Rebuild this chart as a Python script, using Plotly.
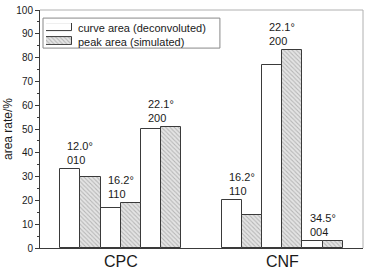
import plotly.graph_objects as go

groups = ["CPC", "CPC", "CPC", "CNF", "CNF", "CNF"]
angles = ["12.0°", "16.2°", "22.1°", "16.2°", "22.1°", "34.5°"]
hkl = ["010", "110", "200", "110", "200", "004"]
curve_area = [33, 17, 50, 20, 77, 3]
peak_area = [30, 19, 51, 14, 83, 3]
group_names = ["CPC", "CNF"]
series_names = ["curve area (deconvoluted)", "peak area (simulated)"]

# position of each pair: index inside its group, groups separated by one empty slot
pos = []
counts = {}
for g in groups:
    gi = group_names.index(g)
    k = counts.get(g, 0)
    counts[g] = k + 1
    pos.append(gi * 4 + k)
group_centers = [sum(p for p, g in zip(pos, groups) if g == name) / groups.count(name) for name in group_names]

FONT = "Liberation Sans, Arial, sans-serif"
EDGE = "#3a3a3a"
TXT = "#1a1a1a"
WHITE_STYLE = dict(color="white", line=dict(color=EDGE, width=1))
HATCH_STYLE = dict(color="#d9d9d9", line=dict(color=EDGE, width=1),
                   pattern=dict(shape="\\", size=3, solidity=0.35, fgcolor="#8a8a8a", bgcolor="#e4e4e4"))

fig = go.Figure()
fig.add_trace(go.Bar(x=pos, y=curve_area, width=0.5, offset=-0.5, name=series_names[0],
                     marker=WHITE_STYLE, showlegend=False))
fig.add_trace(go.Bar(x=pos, y=peak_area, width=0.5, offset=0, name=series_names[1],
                     marker=HATCH_STYLE, showlegend=False))

for p, a, h, c, s in zip(pos, angles, hkl, curve_area, peak_area):
    fig.add_annotation(x=p, y=max(c, s), text=f"{a}<br>{h}", showarrow=False,
                       xanchor="center", yanchor="bottom", align="left", yshift=1,
                       font=dict(size=11, color=TXT, family=FONT))

# category labels under the axis
for name, cx in zip(group_names, group_centers):
    fig.add_annotation(x=cx, y=0, xref="x", yref="paper", text=name, showarrow=False,
                       xanchor="center", yanchor="top", yshift=-3,
                       font=dict(size=16, color=TXT, family=FONT))

# frame (top / right) in lighter grey
fig.add_shape(type="line", xref="paper", yref="paper", x0=0, x1=1, y0=1, y1=1,
              line=dict(color="#b0b0b0", width=1))
fig.add_shape(type="line", xref="paper", yref="paper", x0=1, x1=1, y0=0, y1=1,
              line=dict(color="#b0b0b0", width=1))

# legend drawn as a box with swatches (bars on a small overlay axis) and text
fig.add_shape(type="rect", xref="paper", yref="paper", x0=0.0093, x1=0.557, y0=0.840, y1=0.966,
              line=dict(color="#888888", width=1), fillcolor="white", layer="below")
fig.add_trace(go.Bar(x=[1], y=[1], orientation="h", width=0.57, marker=WHITE_STYLE,
                     xaxis="x2", yaxis="y2", showlegend=False, hoverinfo="skip"))
fig.add_trace(go.Bar(x=[1], y=[0], orientation="h", width=0.57, marker=HATCH_STYLE,
                     xaxis="x2", yaxis="y2", showlegend=False, hoverinfo="skip"))
for name, yy in zip(series_names, [0.924, 0.866]):
    fig.add_annotation(xref="paper", yref="paper", x=0.111, y=yy, text=name, showarrow=False,
                       xanchor="left", yanchor="middle", font=dict(size=11, color=TXT, family=FONT))

fig.update_layout(
    width=369, height=272,
    margin=dict(l=40, r=6, t=10, b=24, autoexpand=False),
    paper_bgcolor="white", plot_bgcolor="white",
    barmode="overlay", bargap=0,
    font=dict(family=FONT, size=10, color=TXT),
    showlegend=False,
    xaxis=dict(range=[-1, 7], showticklabels=False, ticks="", showgrid=False, zeroline=False,
               showline=True, linecolor=EDGE, linewidth=1, automargin=False),
    yaxis=dict(range=[0, 100], dtick=10, ticks="outside", ticklen=4, tickcolor=EDGE,
               showgrid=False, zeroline=False, showline=True, linecolor=EDGE, linewidth=1,
               minor=dict(ticks="outside", ticklen=2, dtick=5, tickcolor=EDGE),
               title=dict(text="area rate/%", font=dict(size=12, color=TXT), standoff=1),
               tickfont=dict(size=10, color=TXT), automargin=False),
    xaxis2=dict(domain=[0.0186, 0.099], range=[0, 1], anchor="y2", visible=False, fixedrange=True),
    yaxis2=dict(domain=[0.853, 0.945], range=[-0.286, 1.286], anchor="x2", visible=False, fixedrange=True),
)

fig.write_html("out.html", config={"displayModeBar": False},
               post_script="document.body.style.margin='0px';document.body.style.overflow='hidden';")
